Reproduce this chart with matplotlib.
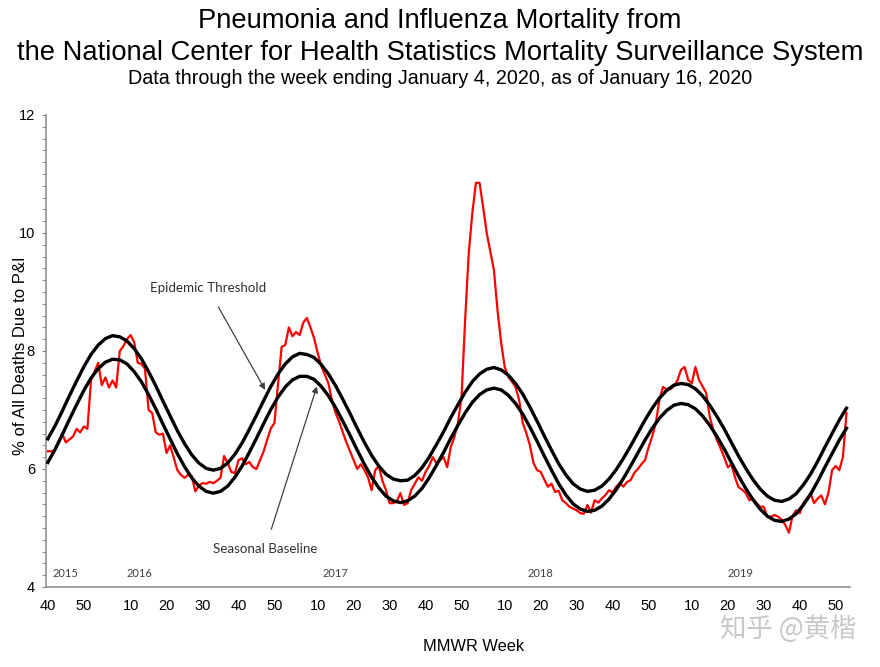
import matplotlib
matplotlib.use('Agg')
import matplotlib.pyplot as plt
from matplotlib.ticker import MultipleLocator

# MMWR weeks: 2015 wk40 .. 2020 wk1 (2015 has 53 weeks)
mmwr_weeks = list(range(40, 54)) + list(range(1, 53)) * 4 + [1]
week_idx = list(range(len(mmwr_weeks)))

# % of all deaths due to P&I, weekly
pi_pct = [
    6.30, 6.30, 6.32, 6.45, 6.60, 6.45, 6.50, 6.55, 6.68, 6.62,
    6.72, 6.68, 7.50, 7.65, 7.80, 7.42, 7.55, 7.38, 7.50, 7.38,
    8.00, 8.08, 8.20, 8.27, 8.15, 7.80, 7.78, 7.70, 7.00, 6.95,
    6.62, 6.58, 6.60, 6.27, 6.40, 6.19, 5.98, 5.90, 5.85, 5.90,
    5.88, 5.62, 5.72, 5.76, 5.75, 5.78, 5.76, 5.80, 5.85, 6.22,
    6.10, 5.95, 5.93, 6.15, 6.18, 6.08, 6.12, 6.03, 6.00, 6.15,
    6.30, 6.50, 6.69, 6.78, 7.45, 8.07, 8.10, 8.40, 8.25, 8.32,
    8.27, 8.48, 8.56, 8.40, 8.22, 7.97, 7.75, 7.60, 7.45, 7.15,
    6.95, 6.80, 6.62, 6.45, 6.30, 6.15, 6.00, 6.08, 5.98, 5.86,
    5.64, 5.98, 6.05, 5.80, 5.64, 5.42, 5.42, 5.45, 5.59, 5.39,
    5.42, 5.64, 5.75, 5.86, 5.80, 5.95, 6.05, 6.20, 6.10, 6.15,
    6.20, 6.03, 6.37, 6.54, 6.78, 7.22, 8.53, 9.66, 10.34, 10.85,
    10.85, 10.44, 10.00, 9.68, 9.37, 8.69, 8.14, 7.73, 7.56, 7.48,
    7.39, 7.17, 6.78, 6.61, 6.40, 6.10, 5.98, 5.95, 5.82, 5.70,
    5.75, 5.61, 5.63, 5.47, 5.42, 5.36, 5.33, 5.30, 5.25, 5.24,
    5.39, 5.26, 5.47, 5.43, 5.50, 5.56, 5.64, 5.60, 5.70, 5.76,
    5.70, 5.78, 5.81, 5.93, 6.00, 6.08, 6.15, 6.37, 6.55, 6.78,
    7.17, 7.39, 7.35, 7.35, 7.40, 7.50, 7.68, 7.73, 7.51, 7.45,
    7.73, 7.51, 7.40, 7.29, 6.88, 6.66, 6.49, 6.35, 6.20, 6.03,
    6.08, 5.86, 5.69, 5.65, 5.59, 5.47, 5.50, 5.42, 5.36, 5.36,
    5.19, 5.19, 5.22, 5.19, 5.14, 5.05, 4.92, 5.20, 5.30, 5.25,
    5.42, 5.50, 5.59, 5.42, 5.50, 5.55, 5.40, 5.60, 5.98, 6.05,
    5.98, 6.20, 6.95,
]

# baseline / threshold read every second week
curve_idx = week_idx[::2]
baseline = [
    6.11, 6.33, 6.58, 6.84, 7.09, 7.33, 7.54, 7.70, 7.81, 7.86,
    7.85, 7.78, 7.65, 7.48, 7.26, 7.02, 6.76, 6.51, 6.26, 6.04, 5.85, 5.71, 5.62, 5.59,
    5.62, 5.71, 5.86, 6.05, 6.28, 6.52, 6.77, 7.01, 7.22, 7.39, 7.51, 7.57,
    7.57, 7.52, 7.40, 7.24, 7.04, 6.81, 6.57, 6.32, 6.08, 5.86, 5.68, 5.54, 5.46, 5.43,
    5.46, 5.54, 5.67, 5.85, 6.06, 6.28, 6.52, 6.74, 6.95, 7.13, 7.26, 7.34, 7.37,
    7.34, 7.25, 7.11, 6.93, 6.71, 6.47, 6.22, 5.98, 5.75, 5.56, 5.41, 5.32, 5.28,
    5.30, 5.37, 5.49, 5.65, 5.84, 6.05, 6.27, 6.49, 6.69, 6.86, 6.99, 7.08, 7.11,
    7.09, 7.02, 6.90, 6.74, 6.55, 6.34, 6.11, 5.88, 5.67, 5.48, 5.32, 5.20, 5.13, 5.11,
    5.15, 5.24, 5.39, 5.57, 5.79, 6.03, 6.26, 6.49, 6.69,
]
threshold = [
    6.51, 6.73, 6.98, 7.24, 7.49, 7.73, 7.94, 8.10, 8.21, 8.26,
    8.24, 8.17, 8.04, 7.87, 7.65, 7.41, 7.15, 6.90, 6.65, 6.43, 6.24, 6.10, 6.01, 5.98,
    6.01, 6.10, 6.25, 6.44, 6.67, 6.91, 7.16, 7.40, 7.61, 7.78, 7.90, 7.96,
    7.94, 7.89, 7.77, 7.61, 7.41, 7.18, 6.94, 6.69, 6.45, 6.23, 6.05, 5.91, 5.83, 5.80,
    5.81, 5.89, 6.02, 6.20, 6.41, 6.63, 6.87, 7.09, 7.30, 7.48, 7.61, 7.69, 7.72,
    7.68, 7.59, 7.45, 7.27, 7.05, 6.81, 6.56, 6.32, 6.09, 5.90, 5.75, 5.66, 5.62,
    5.64, 5.71, 5.83, 5.99, 6.18, 6.39, 6.61, 6.83, 7.03, 7.20, 7.33, 7.42, 7.45,
    7.43, 7.36, 7.24, 7.08, 6.89, 6.68, 6.45, 6.22, 6.01, 5.82, 5.66, 5.54, 5.47, 5.45,
    5.49, 5.58, 5.73, 5.91, 6.13, 6.37, 6.60, 6.83, 7.03,
]

years = ['2015', '2016', '2017', '2018', '2019']

fig = plt.figure(figsize=(8.8, 6.67), dpi=100)
ax = fig.add_axes([0.0523, 0.120, 0.9137, 0.7076])

ax.plot(week_idx, pi_pct, color='#ff0000', lw=1.6, zorder=2)
ax.plot(curve_idx, threshold, color='black', lw=2.4, zorder=3)
ax.plot(curve_idx, baseline, color='black', lw=2.4, zorder=3)

ax.set_xlim(-0.5, 223)
ax.set_ylim(4, 12)

tick_pos = [i for i, w in enumerate(mmwr_weeks) if w % 10 == 0]
tick_lab = [str(mmwr_weeks[i]) for i in tick_pos]
ax.set_xticks(tick_pos)
ax.set_xticklabels(tick_lab, fontsize=10.5, family='Liberation Sans')
ax.tick_params(axis='x', length=0, pad=9)

ax.set_yticks([4, 6, 8, 10, 12])
ax.set_yticklabels(['4', '6', '8', '10', '12'], fontsize=10.5, family='Liberation Sans')
ax.yaxis.set_minor_locator(MultipleLocator(0.2))
ax.tick_params(axis='y', which='both', direction='out', length=3, color='#808080', pad=5)

for s in ['top', 'right']:
    ax.spines[s].set_visible(False)
for s in ['left', 'bottom']:
    ax.spines[s].set_color('#909090')
    ax.spines[s].set_linewidth(1.2)

# year labels inside plot
for yr, pos in zip(years, [5, 25.5, 80, 137, 192.5]):
    ax.text(pos, 4.22, yr, fontsize=8, family='Lato', color='#404040',
            ha='center', va='center')

ax.annotate('Epidemic Threshold', xy=(60.4, 7.34), xytext=(44.5, 9.06),
            fontsize=9.6, family='Lato', color='#303030', ha='center', va='center',
            arrowprops=dict(arrowstyle='-|>', color='#404040', lw=0.9,
                            shrinkA=8, shrinkB=0, mutation_scale=9))
ax.annotate('Seasonal Baseline', xy=(74.8, 7.40), xytext=(60.4, 4.65),
            fontsize=9.6, family='Lato', color='#303030', ha='center', va='center',
            arrowprops=dict(arrowstyle='-|>', color='#404040', lw=0.9,
                            shrinkA=8, shrinkB=0, mutation_scale=9))

ax.set_ylabel('% of All Deaths Due to P&I', fontsize=12, family='Liberation Sans')
ax.yaxis.set_label_coords(-0.023, 0.489)
ax.set_xlabel('MMWR Week', fontsize=11.8, family='Liberation Sans')
ax.xaxis.set_label_coords(0.532, -0.111)

fig.text(0.5, 1 - 21 / 667, 'Pneumonia and Influenza Mortality from',
         fontsize=19.7, family='Liberation Sans', ha='center', va='center')
fig.text(0.5, 1 - 53 / 667, 'the National Center for Health Statistics Mortality Surveillance System',
         fontsize=19.7, family='Liberation Sans', ha='center', va='center')
fig.text(0.5, 1 - 78 / 667, 'Data through the week ending January 4, 2020, as of January 16, 2020',
         fontsize=14.2, family='Liberation Sans', ha='center', va='center')

fig.text(0.818, 1 - 629 / 667, '知乎 @黄楷', fontsize=19, color='#c8c8c8',
         family=['Noto Sans CJK SC', 'DejaVu Sans'], ha='left', va='center')

fig.savefig('out.png', dpi=100)
